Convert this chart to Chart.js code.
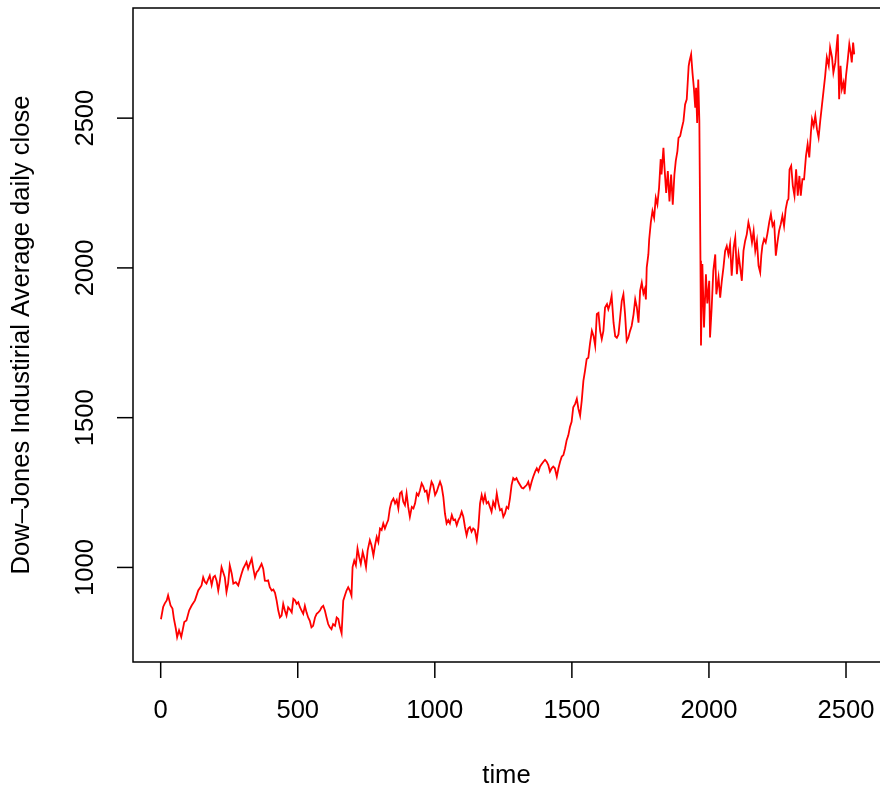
<!DOCTYPE html>
<html>
<head>
<meta charset="utf-8">
<title>Dow-Jones Industrial Average daily close</title>
<script src="https://cdn.jsdelivr.net/npm/chart.js@4/dist/chart.umd.min.js"></script>
<style>
  html, body { margin: 0; padding: 0; background: #ffffff; }
  canvas { display: block; }
</style>
</head>
<body>
<canvas id="dj" width="880" height="791"></canvas>
<script>
// Trading day index and closing level
const days = [
  1, 9, 15, 22, 27, 36, 43, 48, 55, 60, 67, 75, 80, 86, 94, 104, 113, 125, 137, 149,
  155, 161, 167, 179, 186, 192, 198, 204, 210, 216, 222, 228, 234, 240, 246, 252, 259, 265, 274, 283,
  289, 295, 301, 307, 313, 319, 325, 332, 338, 344, 350, 356, 362, 368, 374, 380, 386, 392, 398, 405,
  411, 417, 423, 429, 435, 441, 447, 453, 459, 465, 471, 478, 484, 490, 496, 502, 508, 514, 520, 526,
  532, 538, 544, 550, 556, 563, 569, 575, 581, 587, 593, 599, 605, 611, 617, 623, 629, 636, 642, 648,
  654, 660, 666, 672, 678, 684, 690, 696, 700, 706, 712, 718, 724, 730, 737, 743, 749, 755, 763, 769,
  776, 782, 788, 794, 800, 806, 812, 818, 824, 830, 836, 842, 849, 855, 861, 867, 873, 879, 885, 891,
  897, 903, 909, 916, 922, 928, 934, 940, 946, 952, 958, 964, 970, 976, 982, 988, 994, 1001, 1007, 1013,
  1019, 1025, 1031, 1037, 1043, 1049, 1055, 1062, 1068, 1074, 1080, 1086, 1092, 1098, 1104, 1110, 1116, 1122, 1128, 1134,
  1140, 1146, 1153, 1159, 1165, 1171, 1177, 1183, 1189, 1195, 1201, 1207, 1213, 1220, 1226, 1232, 1238, 1244, 1250, 1256,
  1262, 1268, 1274, 1280, 1286, 1292, 1298, 1304, 1311, 1317, 1323, 1329, 1335, 1341, 1347, 1353, 1359, 1366, 1372, 1378,
  1384, 1390, 1396, 1402, 1408, 1414, 1420, 1426, 1432, 1438, 1445, 1451, 1457, 1463, 1469, 1475, 1481, 1487, 1493, 1499,
  1505, 1512, 1518, 1524, 1530, 1536, 1542, 1548, 1554, 1560, 1566, 1573, 1579, 1585, 1591, 1597, 1603, 1609, 1615, 1621,
  1628, 1633, 1639, 1645, 1652, 1658, 1664, 1670, 1676, 1682, 1688, 1694, 1700, 1706, 1712, 1718, 1725, 1731, 1737, 1743,
  1749, 1755, 1761, 1766, 1770, 1773, 1779, 1782, 1788, 1794, 1800, 1806, 1812, 1818, 1824, 1827, 1834, 1838, 1844, 1850,
  1856, 1862, 1868, 1874, 1879, 1885, 1889, 1895, 1900, 1907, 1913, 1919, 1926, 1929, 1935, 1940, 1945, 1950, 1953, 1957,
  1961, 1965, 1969, 1971, 1976, 1982, 1989, 1994, 2001, 2004, 2010, 2016, 2023, 2027, 2035, 2041, 2047, 2053, 2059, 2065,
  2071, 2077, 2083, 2090, 2096, 2102, 2108, 2114, 2120, 2126, 2132, 2138, 2144, 2151, 2157, 2163, 2169, 2175, 2181, 2187,
  2191, 2195, 2201, 2207, 2213, 2220, 2226, 2232, 2238, 2244, 2250, 2256, 2262, 2268, 2274, 2280, 2286, 2290, 2294, 2300,
  2306, 2312, 2318, 2324, 2330, 2335, 2341, 2347, 2354, 2360, 2366, 2372, 2376, 2382, 2388, 2394, 2400, 2406, 2412, 2418,
  2424, 2430, 2437, 2442, 2449, 2454, 2461, 2467, 2470, 2475, 2480, 2485, 2491, 2495, 2500, 2506, 2512, 2517, 2521, 2526,
  2530
];
const closes = [
  827, 868, 880, 890, 907, 873, 863, 830, 797, 767, 790, 768, 790, 818, 823, 857, 873, 890, 923, 940,
  967, 952, 946, 973, 941, 967, 972, 956, 923, 956, 1001, 984, 967, 918, 946, 1007, 980, 946, 951, 940,
  960, 979, 996, 1007, 1018, 996, 1012, 1029, 996, 967, 984, 990, 1001, 1012, 996, 956, 955, 957, 934, 923,
  926, 915, 889, 856, 833, 839, 878, 856, 839, 867, 860, 850, 895, 890, 878, 884, 867, 856, 845, 872,
  850, 833, 822, 800, 805, 833, 845, 850, 856, 867, 872, 856, 833, 811, 800, 794, 811, 805, 833, 828,
  800, 780, 889, 906, 923, 934, 923, 906, 1001, 1023, 1007, 1063, 1035, 1012, 1051, 1030, 1001, 1057, 1091, 1074,
  1040, 1074, 1102, 1085, 1130, 1125, 1147, 1130, 1145, 1158, 1197, 1219, 1230, 1214, 1225, 1197, 1247, 1253, 1219, 1208,
  1247, 1202, 1169, 1202, 1197, 1214, 1247, 1240, 1258, 1281, 1270, 1253, 1256, 1225, 1258, 1286, 1275, 1242, 1253, 1270,
  1286, 1270, 1236, 1180, 1147, 1158, 1147, 1175, 1158, 1160, 1141, 1158, 1169, 1186, 1169, 1135, 1107, 1130, 1135, 1119,
  1130, 1125, 1091, 1135, 1214, 1242, 1219, 1242, 1214, 1219, 1202, 1186, 1219, 1202, 1247, 1214, 1191, 1195, 1169, 1180,
  1202, 1197, 1230, 1275, 1298, 1292, 1298, 1286, 1275, 1266, 1264, 1270, 1275, 1286, 1264, 1285, 1303, 1320, 1331, 1320,
  1337, 1345, 1353, 1359, 1353, 1342, 1320, 1331, 1337, 1331, 1303, 1331, 1353, 1370, 1375, 1397, 1425, 1441, 1469, 1486,
  1535, 1546, 1563, 1529, 1507, 1557, 1623, 1657, 1696, 1700, 1746, 1790, 1773, 1740, 1846, 1850, 1790, 1762, 1790, 1868,
  1879, 1862, 1879, 1907, 1817, 1772, 1767, 1778, 1834, 1890, 1912, 1845, 1756, 1767, 1789, 1806, 1845, 1895, 1868, 1817,
  1924, 1951, 1915, 1929, 1895, 2001, 2045, 2095, 2152, 2190, 2167, 2234, 2212, 2267, 2363, 2312, 2401, 2334, 2250, 2323,
  2222, 2312, 2211, 2312, 2357, 2390, 2434, 2440, 2462, 2490, 2546, 2563, 2674, 2690, 2713, 2651, 2601, 2535, 2601, 2484,
  2629, 2490, 2024, 1741, 2013, 1801, 1979, 1881, 1957, 1768, 1868, 1991, 2045, 1912, 1968, 1901, 1957, 2002, 2057, 2073,
  2045, 2079, 1974, 2068, 2101, 1979, 2045, 2002, 1957, 2057, 2090, 2112, 2152, 2123, 2085, 2123, 2057, 2090, 2007, 1985,
  2041, 2074, 2096, 2085, 2113, 2153, 2180, 2141, 2152, 2041, 2086, 2124, 2146, 2174, 2140, 2196, 2224, 2230, 2329, 2341,
  2274, 2241, 2329, 2241, 2307, 2241, 2296, 2296, 2374, 2413, 2369, 2452, 2496, 2474, 2508, 2463, 2435, 2491, 2541, 2591,
  2641, 2703, 2675, 2736, 2703, 2652, 2686, 2752, 2780, 2563, 2675, 2597, 2619, 2580, 2641, 2691, 2747, 2719, 2686, 2752,
  2713
];

// Axis tick labels
const timeTicks = [0, 500, 1000, 1500, 2000, 2500];
const closeTicks = [1000, 1500, 2000, 2500];

const xLabel = 'time';
const yLabel = 'Dow\u2013Jones Industirial Average daily close';

const FONT = '25.6px "Liberation Sans", Arial, sans-serif';

// R-style axes: open box, outward ticks, labels parallel to each axis
const baseAxes = {
  id: 'baseAxes',
  afterDraw(chart) {
    const { ctx, chartArea: a, scales: { x, y } } = chart;
    ctx.save();
    ctx.strokeStyle = '#000';
    ctx.fillStyle = '#000';
    ctx.lineWidth = 1.5;

    // frame: top, left, bottom
    ctx.beginPath();
    ctx.moveTo(a.right + 2, a.top);
    ctx.lineTo(a.left, a.top);
    ctx.lineTo(a.left, a.bottom);
    ctx.lineTo(a.right + 2, a.bottom);
    ctx.stroke();

    ctx.font = FONT;

    // bottom ticks
    ctx.textAlign = 'center';
    ctx.textBaseline = 'middle';
    timeTicks.forEach(v => {
      const px = x.getPixelForValue(v);
      ctx.beginPath();
      ctx.moveTo(px, a.bottom);
      ctx.lineTo(px, a.bottom + 16);
      ctx.stroke();
      ctx.fillText(String(v), px, a.bottom + 48.5);
    });

    // left ticks, rotated labels
    closeTicks.forEach(v => {
      const py = y.getPixelForValue(v);
      ctx.beginPath();
      ctx.moveTo(a.left, py);
      ctx.lineTo(a.left - 16, py);
      ctx.stroke();
      ctx.save();
      ctx.translate(a.left - 47.5, py);
      ctx.rotate(-Math.PI / 2);
      ctx.fillText(String(v), 0, 0);
      ctx.restore();
    });

    // axis titles
    const midX = (a.left + a.right) / 2;
    const midY = (a.top + a.bottom) / 2;
    ctx.textBaseline = 'alphabetic';
    ctx.fillText(xLabel, midX, 783);
    ctx.save();
    ctx.translate(22, midY);
    ctx.rotate(-Math.PI / 2);
    ctx.textBaseline = 'middle';
    ctx.fillText(yLabel, 0, 0);
    ctx.restore();

    ctx.restore();
  }
};

new Chart(document.getElementById('dj'), {
  type: 'scatter',
  data: {
    datasets: [{
      data: days.map((d, i) => ({ x: d, y: closes[i] })),
      showLine: true,
      borderColor: '#ff0000',
      backgroundColor: '#ff0000',
      borderWidth: 1.8,
      pointRadius: 0,
      tension: 0
    }]
  },
  options: {
    responsive: false,
    animation: false,
    devicePixelRatio: 1,
    layout: { padding: { left: 133, top: 8, right: 0, bottom: 129 } },
    plugins: { legend: { display: false }, tooltip: { enabled: false } },
    scales: {
      x: { type: 'linear', min: -101, max: 2624, display: false },
      y: { type: 'linear', min: 684.3, max: 2867.7, display: false }
    }
  },
  plugins: [baseAxes]
});
</script>
</body>
</html>
